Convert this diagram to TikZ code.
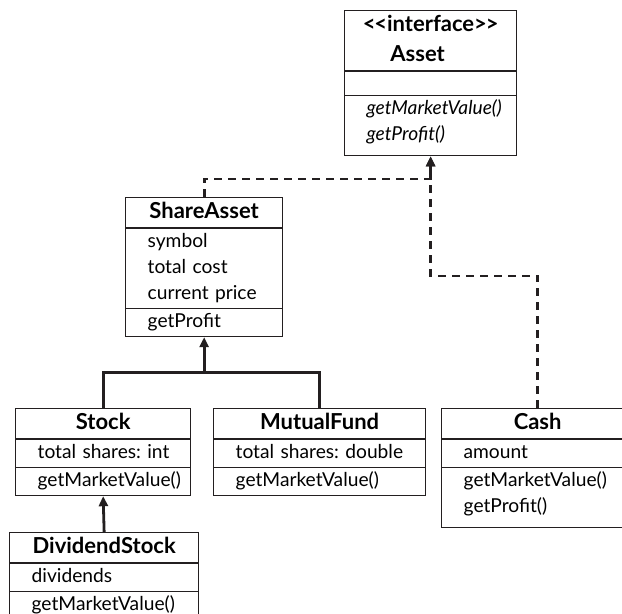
\documentclass[tikz,border=0pt]{standalone}
\usepackage{fontspec}
\setmainfont{Lato}
\usetikzlibrary{arrows.meta,calc,shapes.multipart}
\definecolor{UmlInk}{HTML}{231F20}
\newcommand\mem[1]{\hspace*{8pt}#1\strut}
\newcommand\cls[1]{\centering{\fontsize{11}{14}\selectfont\bfseries#1\strut}\par}

\begin{document}
\begin{tikzpicture}[x=0.5pt,y=-0.5pt,
    font=\fontsize{9.6}{13}\selectfont,
    umlclass/.style={draw=UmlInk,line width=0.65pt,rectangle split,rectangle split parts=3,
      anchor=north west,inner xsep=3pt,inner ysep=0.25pt,text width=#1},
    realize/.style={-{Triangle[length=5pt,width=4.5pt]},line width=1.4pt,UmlInk,dash pattern=on 4pt off 3pt},
    inherit/.style={-{Triangle[length=5pt,width=4.5pt]},line width=1.4pt,UmlInk}
  ]
    \useasboundingbox (0,0) rectangle (622,614);

    % classes
    \node[umlclass=80pt] (asset) at (344,10)
      {\cls{<\kern-0.6pt<interface>\kern-0.6pt>}\cls{Asset\hspace*{13pt}}
       \nodepart{two}\rule{0pt}{11pt}
       \nodepart{three}\mem{\textit{getMarketValue()}}\\\mem{\textit{getProfit()}\rule[-7pt]{0pt}{7pt}}};
    \node[umlclass=72.5pt] (shareasset) at (125,197)
      {\cls{ShareAsset}
       \nodepart{two}\mem{symbol}\\\mem{total cost}\\\mem{current price}
       \nodepart{three}\mem{getProfit}};
    \node[umlclass=81.5pt] (stock) at (15,408)
      {\cls{Stock}
       \nodepart{two}\mem{total shares:\ int}
       \nodepart{three}\mem{getMarketValue()}};
    \node[umlclass=100pt] (mutual) at (213,408)
      {\cls{MutualFund}
       \nodepart{two}\mem{total shares:\ double}
       \nodepart{three}\mem{getMarketValue()}};
    \node[umlclass=90pt] (cash) at (441,408)
      {\cls{Cash}
       \nodepart{two}\mem{amount}
       \nodepart{three}\mem{getMarketValue()}\\\mem{getProfit()\rule[-7pt]{0pt}{7pt}}};
    \node[umlclass=88.5pt] (dividend) at (9,532)
      {\cls{DividendStock}
       \nodepart{two}\mem{dividends}
       \nodepart{three}\mem{getMarketValue()}};

    % interface realization
    \draw[realize] (shareasset.north) -- ++(0,-18) -| (asset.south);
    \draw[realize] (cash.north) -- ++(0,-132) -| (asset.south);

    % inheritance
    \coordinate (hub) at ($(shareasset.south)+(0,35)$);
    \draw[inherit,-] (stock.north) |- (hub) -| (mutual.north);
    \draw[inherit] (hub) -- (shareasset.south);
    \draw[inherit] (dividend.north) -- (stock.south);
  \end{tikzpicture}
\end{document}
